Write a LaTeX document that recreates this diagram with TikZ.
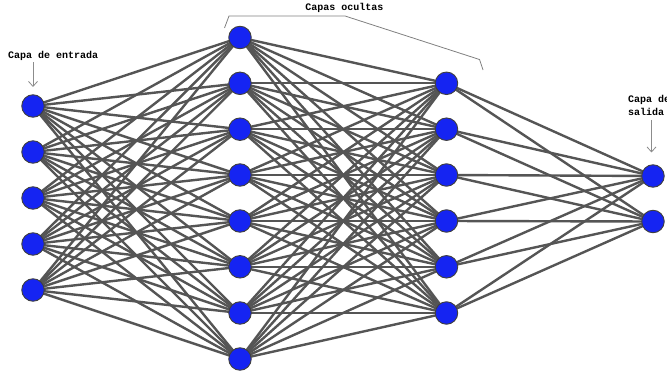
\documentclass[tikz,border=0pt]{standalone}
\usepackage{fontspec}
\setmonofont{Liberation Mono}
\usetikzlibrary{arrows.meta}
\begin{document}
\begin{tikzpicture}[x=1pt,y=-1pt,
  neuron/.style={circle,draw=black!75,line width=0.9pt,fill=nblue,minimum size=22.5pt,inner sep=0pt},
  conn/.style={draw=egray,line width=2.4pt},
  lbl/.style={font=\ttfamily\bfseries\fontsize{10}{12.5}\selectfont,inner sep=0pt,text=black},
  pointer/.style={draw=black!45,line width=0.8pt,-{Straight Barb[length=5pt,width=9pt]}},
  bracket/.style={draw=black!50,line width=0.8pt}]
\definecolor{nblue}{HTML}{1524F2}
\definecolor{egray}{HTML}{555555}
\useasboundingbox (0,0) rectangle (667,377);
% input layer
\foreach \i/\y in {1/106,2/152,3/198,4/244,5/290}
  \coordinate (i\i) at (33,\y);
\foreach \i/\y in {1/37.5,2/83.3,3/129.2,4/175,5/221,6/266.8,7/313,8/359}
  \coordinate (h\i) at (240,\y);
\foreach \i/\y in {1/83.3,2/129.2,3/175,4/221,5/266.8,6/313}
  \coordinate (g\i) at (446.5,\y);
\foreach \i/\y in {1/176,2/221.5}
  \coordinate (o\i) at (653,\y);
% connections
\foreach \a in {1,...,5}
  \foreach \b in {1,...,8}
    \draw[conn] (i\a) -- (h\b);
\foreach \a in {1,...,8}
  \foreach \b in {1,...,6}
    \draw[conn] (h\a) -- (g\b);
\foreach \a in {1,...,6}
  \foreach \b in {1,2}
    \draw[conn] (g\a) -- (o\b);
% neurons
\foreach \i in {1,...,5} \node[neuron] (I\i) at (i\i) {};
\foreach \i in {1,...,8} \node[neuron] (H\i) at (h\i) {};
\foreach \i in {1,...,6} \node[neuron] (G\i) at (g\i) {};
\foreach \i in {1,2} \node[neuron] (O\i) at (o\i) {};
% labels
\node[lbl,anchor=west] (lin) at (8,55.5) {Capa de entrada};
\coordinate (ain) at (33,62.5);
\draw[pointer] (ain) -- ++(0,24.5);
\node[lbl,anchor=center] (lhid) at (344.5,7.5) {Capas ocultas};
\coordinate (b1) at (224.5,28);
\coordinate (b2) at (229,16);
\coordinate (b3) at (345,16);
\coordinate (b4) at (479.5,59.5);
\coordinate (b5) at (483,70);
\draw[bracket] (b1) -- (b2) -- (b3) -- (b4) -- (b5);
\node[lbl,anchor=north west,align=left] (lout) at (628,95.5) {Capa de\\salida};
\coordinate (aout) at (651.5,120);
\draw[pointer] (aout) -- ++(0,32.5);
\end{tikzpicture}
\end{document}
